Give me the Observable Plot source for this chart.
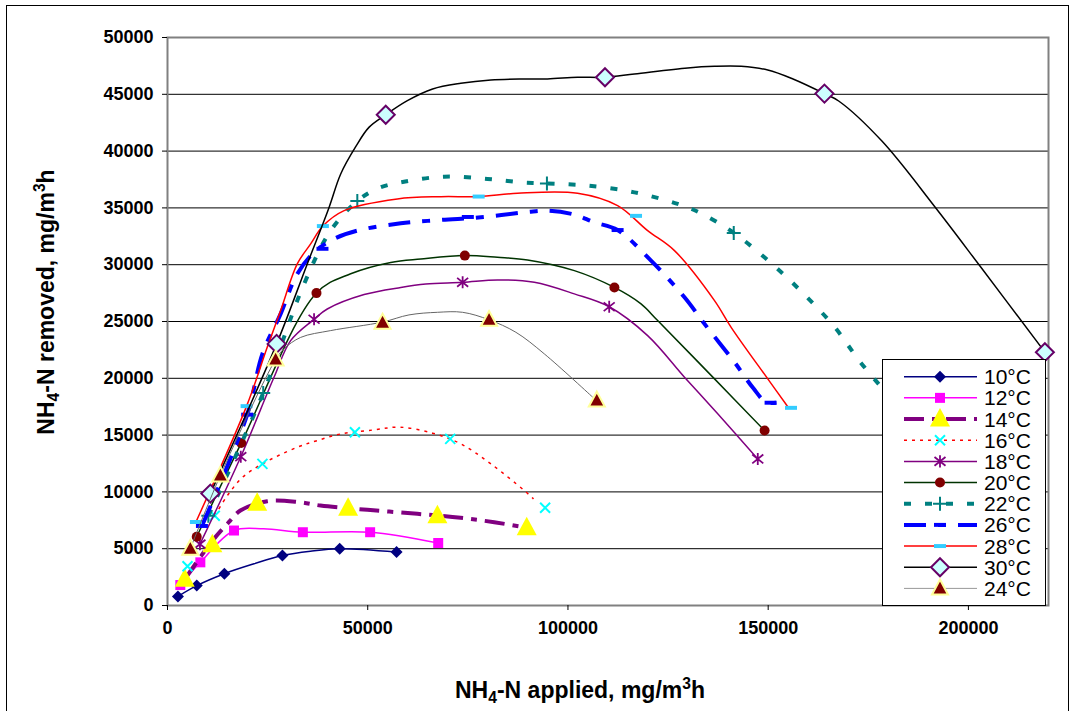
<!DOCTYPE html>
<html><head><meta charset="utf-8">
<script src="https://cdn.jsdelivr.net/npm/d3@7"></script>
<script src="https://cdn.jsdelivr.net/npm/@observablehq/plot@0.6"></script>
<style>
html,body{margin:0;padding:0;background:#fff;}
#chart{width:1075px;height:711px;}
</style>
</head><body><div id="chart"></div>
<script>
// ---------- data ----------
const xTicks = [0, 50000, 100000, 150000, 200000];
const yTicks = [0, 5000, 10000, 15000, 20000, 25000, 30000, 35000, 40000, 45000, 50000];
const seriesNames = ["10°C","12°C","14°C","16°C","18°C","20°C","22°C","26°C","28°C","30°C","24°C"];

// markers [applied, removed]
const pts10 = [[2600,800],[7300,1750],[14200,2800],[28700,4400],[43000,5000],[57200,4700]];
const pts12 = [[3200,1800],[8200,3800],[16600,6600],[33800,6450],[50600,6450],[67600,5500]];
const pts14 = [[4300,2300],[11200,5350],[22400,9000],[45100,8550],[67400,7900],[89700,6850]];
const pts16 = [[5000,3450],[11800,7900],[23700,12470],[46800,15250],[70600,14670],[94300,8600]];
const pts18 = [[8100,5400],[18300,13100],[36600,25200],[73700,28450],[110300,26300],[147400,12900]];
const pts20 = [[7300,6050],[18400,14300],[37200,27500],[74250,30800],[111600,28000],[149100,15400]];
const pts22 = [[10200,7900],[23900,18700],[47400,35600],[94750,37150],[141400,32800]];
const pts26 = [[8600,7000],[19900,16800],[38700,31400],[75000,34200],[112400,33050],[150600,17850]];
const pts28 = [[7100,7350],[19750,17550],[38800,33400],[77700,36000],[117000,34300],[155700,17400]];
const pts30 = [[10700,9850],[27250,23030],[54500,43200],[109250,46500],[164050,45060],[219100,22300]];
const pts24 = [[5700,5000],[13200,11450],[27000,21650],[53700,24900],[80300,25150],[107200,18050]];

// curve vertices
const line10 = [[2600,800],[7300,1750],[14200,2800],[21600,3670],[28700,4400],[35700,4780],[43000,5000],[57200,4700]];
const line12 = [[3200,1800],[8200,3800],[16600,6600],[24000,6750],[33800,6450],[50600,6450],[67600,5500]];
const line14 = [[4300,2300],[11000,5600],[15300,7330],[18200,8360],[24900,9180],[32800,9100],[38200,8800],[49900,8420],[62400,8070],[73200,7720],[81600,7330],[89700,6850]];
const line16 = [[11800,7900],[15000,9700],[18750,11290],[23700,12470],[32400,13930],[37400,14520],[43250,15100],[51600,15460],[58000,15700],[66200,15170],[73250,14230],[80750,12470],[89100,10120],[91400,9390]];
const line18 = [[8100,5400],[18300,13100],[26600,20090],[30750,23320],[36600,25200],[39900,26100],[49100,27370],[58250,28000],[64500,28300],[73700,28450],[82400,28660],[91600,28450],[101600,27430],[110300,26300],[119900,23760],[129100,20100],[137400,16870],[147400,12900]];
const line20 = [[7300,6050],[18400,14300],[37200,27500],[45750,29200],[55750,30200],[63250,30500],[74250,30800],[82400,30650],[89900,30420],[101600,29480],[111600,28000],[118250,26550],[122400,25080],[136600,19950],[149100,15400]];
const line22 = [[10200,7900],[23900,18700],[34100,28300],[40750,33000],[47400,35600],[52400,36700],[58250,37250],[69100,37750],[79900,37550],[88250,37250],[94750,37150],[104900,36960],[116600,36370],[127400,35350],[133250,34520],[141400,32800],[150800,30120],[159200,27320],[166750,24440],[173000,21430],[185000,16500]];
const line26 = [[8600,7000],[19900,16800],[23700,22150],[28250,25670],[32400,29190],[36600,31090],[41600,32270],[47400,33000],[58250,33640],[68250,33940],[78250,34170],[90750,34670],[95300,34760],[101600,34410],[106600,33730],[112400,33050],[120750,30360],[129100,27130],[134100,24790],[141600,21410],[146200,19160],[149500,17890],[152000,17850]];
const line28 = [[7100,7350],[19750,17550],[24900,22730],[28250,25960],[32400,30070],[35750,31830],[38800,33400],[44100,34760],[57400,35790],[68250,35990],[77700,36000],[87400,36290],[102400,36290],[112400,35200],[119900,33000],[126600,31240],[136600,26840],[140750,24490],[149900,19950],[154900,17500]];
const line30 = [[10700,9850],[27250,23030],[34900,30070],[40300,35000],[43250,37990],[47000,40390],[50300,42090],[54500,43200],[59900,44440],[66200,45470],[73250,45970],[80750,46260],[88250,46350],[94900,46350],[102400,46500],[109250,46500],[116600,46790],[129900,47320],[136600,47460],[143250,47460],[149900,47140],[156200,46350],[164050,45060],[167600,44410],[178400,40880],[191850,34990],[202700,29970],[219100,22300]];
const line24 = [[5700,5000],[13200,11450],[27000,21650],[29100,22600],[33250,23600],[40750,24200],[53700,24950],[60300,25580],[67400,25810],[73700,25810],[80300,25150],[87000,24050],[94100,22150],[106200,18330]];

const allPts = [pts10,pts12,pts14,pts16,pts18,pts20,pts22,pts26,pts28,pts30,pts24];
const allLines = [line10,line12,line14,line16,line18,line20,line22,line26,line28,line30,line24];

// ---------- symbols ----------
const R = s => Math.sqrt(s / Math.PI);
const sym = {
  diamond: {draw(c,s){const r=R(s);c.moveTo(0,-r);c.lineTo(r,0);c.lineTo(0,r);c.lineTo(-r,0);c.closePath();}},
  square: {draw(c,s){const r=R(s);c.rect(-r,-r,2*r,2*r);}},
  triangle: {draw(c,s){const r=R(s);c.moveTo(0,-r*1.1);c.lineTo(r,r*0.75);c.lineTo(-r,r*0.75);c.closePath();}},
  times: {draw(c,s){const r=R(s);c.moveTo(-r,-r);c.lineTo(r,r);c.moveTo(r,-r);c.lineTo(-r,r);}},
  plus: {draw(c,s){const r=R(s);c.moveTo(-r,0);c.lineTo(r,0);c.moveTo(0,-r);c.lineTo(0,r);}},
  asterisk: {draw(c,s){const r=R(s);c.moveTo(-r,-r*0.8);c.lineTo(r,r*0.8);c.moveTo(r,-r*0.8);c.lineTo(-r,r*0.8);c.moveTo(0,-r*1.1);c.lineTo(0,r*1.1);}},
  circle: {draw(c,s){const r=R(s);c.moveTo(r,0);c.arc(0,0,r,0,2*Math.PI);c.closePath();}},
  dash: {draw(c,s){const r=R(s);c.rect(-r,-r*0.33,2*r,r*0.66);}}
};

// ---------- styles (per series, same order as seriesNames) ----------
const styles = [
  {stroke:"#000080", sw:1.5, dash:null,        symbol:"diamond",  fill:"#000080", ms:"none",    msw:0,   r:6},
  {stroke:"#FF00FF", sw:1.5, dash:null,        symbol:"square",   fill:"#FF00FF", ms:"none",    msw:0,   r:5},
  {stroke:"#800080", sw:4,   dash:"20,8,6,8",  symbol:"triangle", fill:"#FFFF00", ms:"none",    msw:0,   r:10},
  {stroke:"#FF0000", sw:1.5, dash:"3,5",       symbol:"times",    fill:"none",    ms:"#00FFFF", msw:2,   r:5},
  {stroke:"#800080", sw:1.5, dash:null,        symbol:"asterisk", fill:"none",    ms:"#800080", msw:1.8, r:5.5},
  {stroke:"#003300", sw:1.5, dash:null,        symbol:"circle",   fill:"#800000", ms:"none",    msw:0,   r:5},
  {stroke:"#008080", sw:4,   dash:"7,14",      symbol:"plus",     fill:"none",    ms:"#008080", msw:2,   r:7},
  {stroke:"#0000FF", sw:4,   dash:"22,12,8,12",symbol:"dash",     fill:"#0000FF", ms:"none",    msw:0,   r:6},
  {stroke:"#FF0000", sw:1.5, dash:null,        symbol:"dash",     fill:"#33CCFF", ms:"none",    msw:0,   r:6},
  {stroke:"#000000", sw:1.5, dash:null,        symbol:"diamond",  fill:"#CCFFFF", ms:"#660066", msw:2,   r:9},
  {stroke:"#666666", sw:1,   dash:null,        symbol:"triangle", fill:"#800000", ms:"#FFFF99", msw:2,   r:8}
];

const FONT = 'Arial, "Liberation Sans", Helvetica, sans-serif';

const marks = [
  Plot.ruleY(yTicks.filter(v => v > 0 && v < 50000), {stroke: "#000", strokeWidth: 1}),
  Plot.frame({stroke: "#808080", strokeWidth: 2}),
  Plot.axisX({ticks: xTicks, tickFormat: d => String(d), tickSize: 5, tickPadding: 11, label: null, stroke: "#000"}),
  Plot.axisY({ticks: yTicks, tickFormat: d => String(d), tickSize: 5, tickPadding: 9, label: null, stroke: "#000"})
];
seriesNames.forEach((name, i) => {
  const st = styles[i];
  marks.push(Plot.line(allLines[i], {
    x: d => d[0], y: d => d[1], stroke: st.stroke, strokeWidth: st.sw,
    strokeDasharray: st.dash || undefined, strokeLinecap: "butt", curve: "catmull-rom"
  }));
  marks.push(Plot.dot(allPts[i], {
    x: d => d[0], y: d => d[1], symbol: sym[st.symbol], r: st.r,
    fill: st.fill, stroke: st.ms, strokeWidth: st.msw
  }));
});

const chart = Plot.plot({
  width: 1075, height: 711,
  marginLeft: 167, marginRight: 27, marginTop: 37, marginBottom: 106,
  x: {domain: [0, 220000]},
  y: {domain: [0, 50000]},
  style: {fontFamily: FONT, fontSize: "18px", fontWeight: "bold", color: "#000", background: "#fff", overflow: "visible"},
  marks
});
document.getElementById("chart").appendChild(chart);

const svg = d3.select(chart);

// outer chart border
svg.append("rect").attr("x", 6.5).attr("y", 5.5).attr("width", 1062).attr("height", 720)
  .attr("fill", "none").attr("stroke", "#000").attr("stroke-width", 1);

// axis titles
function title(g, word) {
  g.append("tspan").text("NH");
  g.append("tspan").text("4").attr("font-size", "0.68em").attr("dy", 5);
  g.append("tspan").text("-N " + word + ", mg/m").attr("dy", -5);
  g.append("tspan").text("3").attr("font-size", "0.68em").attr("dy", -9);
  g.append("tspan").text("h").attr("dy", 9);
}
const xt = svg.append("text").attr("x", 580).attr("y", 698).attr("text-anchor", "middle")
  .attr("font-size", 23).attr("font-weight", "bold").attr("font-family", FONT);
title(xt, "applied");
const yt = svg.append("text").attr("transform", "translate(54,302) rotate(-90)").attr("text-anchor", "middle")
  .attr("font-size", 23).attr("font-weight", "bold").attr("font-family", FONT);
title(yt, "removed");

// legend
const lg = svg.append("g").attr("font-family", FONT).attr("font-weight", "normal").attr("text-anchor", "start");
lg.append("rect").attr("x", 882.5).attr("y", 359.5).attr("width", 163).attr("height", 246)
  .attr("fill", "#fff").attr("stroke", "#000").attr("stroke-width", 1);
seriesNames.forEach((name, i) => {
  const st = styles[i];
  const y = 376.7 + i * 21.17;
  lg.append("line").attr("x1", 904).attr("x2", 977).attr("y1", y).attr("y2", y)
    .attr("stroke", i === 10 ? "#999" : st.stroke).attr("stroke-width", st.sw)
    .attr("stroke-dasharray", st.dash);
  const path = d3.symbol().type(sym[st.symbol]).size(Math.PI * st.r * st.r)();
  lg.append("path").attr("d", path).attr("transform", `translate(940,${y})`)
    .attr("fill", st.fill).attr("stroke", st.ms).attr("stroke-width", st.msw);
  lg.append("text").attr("x", 984).attr("y", y).attr("dy", "0.36em").attr("font-size", 21)
    .attr("fill", "#000").text(name);
});
</script>
</body></html>
